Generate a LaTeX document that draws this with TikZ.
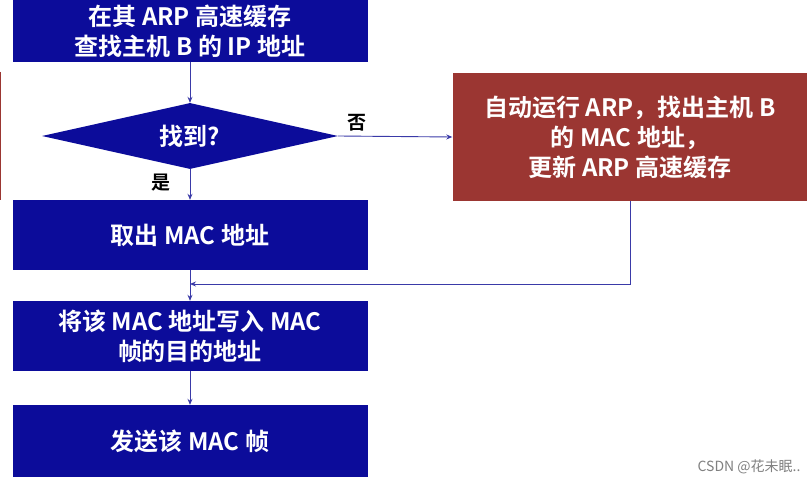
\documentclass[tikz,border=0pt]{standalone}
\usepackage{fontspec}
\setmainfont{Noto Sans CJK SC}[BoldFont={Noto Sans CJK SC Bold}]
\usetikzlibrary{shapes.geometric,arrows.meta}
\definecolor{bx}{HTML}{0C0C9A}
\definecolor{rd}{HTML}{9B3632}
\definecolor{ln}{HTML}{3A3AA8}
\begin{document}
\begin{tikzpicture}[x=1pt,y=-1pt,
  box/.style={fill=bx,text=white,font=\bfseries\fontsize{24}{30}\selectfont,align=center,inner sep=0},
  con/.style={ln,line width=0.9pt,-{Stealth[length=6pt,width=5pt]}},
  lab/.style={font=\bfseries\fontsize{19}{21}\selectfont}]
\useasboundingbox (0,0) rectangle (807,484);
\fill[white] (0,0) rectangle (807,484);
\draw[rd,line width=1pt] (0.5,72) -- (0.5,200);
\node[box,minimum width=355,minimum height=62] (a) at (190,31) {在其 ARP 高速缓存\\查找主机 B 的 IP 地址};
\node[diamond,fill=bx,text=white,font=\bfseries\fontsize{24}{30}\selectfont,minimum width=296,minimum height=66,aspect=4.5,inner sep=0] (d) at (190,136) {找到?};
\node[box,minimum width=355,minimum height=70] (b) at (190,235) {取出 MAC 地址};
\node[box,minimum width=355,minimum height=70] (c) at (190,336) {将该 MAC 地址写入 MAC\\帧的目的地址};
\node[box,minimum width=355,minimum height=72] (e) at (190,441) {发送该 MAC 帧};
\node[box,fill=rd,minimum width=355,minimum height=128] (r) at (630,137) {自动运行 ARP，找出主机 B\\的 MAC 地址，\\更新 ARP 高速缓存};
\coordinate (m) at (190,284);
\draw[con] (a) -- (d);
\draw[con] (d) -- (b);
\draw[con] (b) -- (c);
\draw[con] (c) -- (e);
\draw[con] (d.east) -- (r.west);
\draw[con] (r.south) |- (m);
\node[lab] at (357,123) {否};
\node[lab] at (161,183) {是};
\node[text=gray,font=\fontsize{14}{16}\selectfont,anchor=east] at (804,467) {CSDN @花未眠..};
\end{tikzpicture}
\end{document}
